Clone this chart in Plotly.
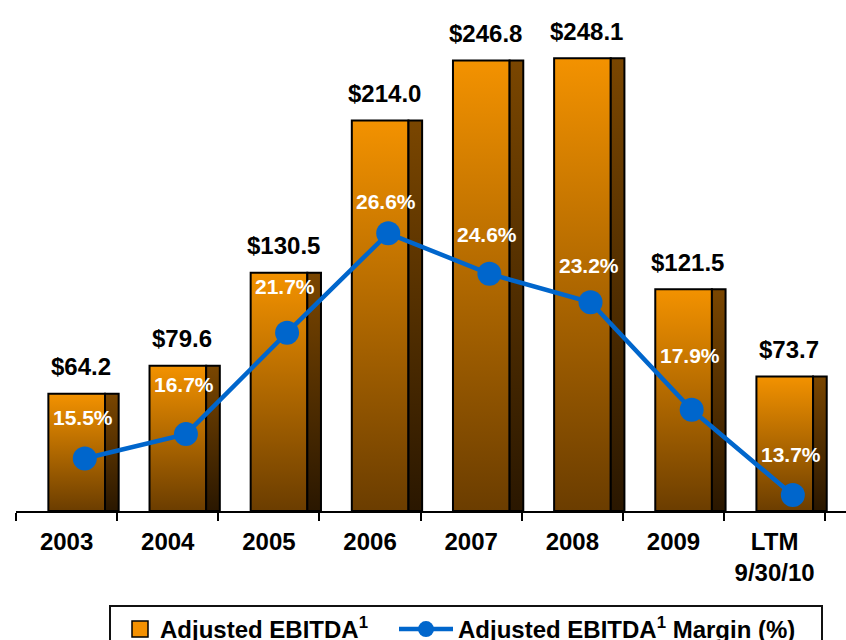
import plotly.graph_objects as go

# ---------------- data ----------------
categories = ["2003", "2004", "2005", "2006", "2007", "2008", "2009", "LTM<br>9/30/10"]
ebitda = [64.2, 79.6, 130.5, 214.0, 246.8, 248.1, 121.5, 73.7]
margin_pct = [15.5, 16.7, 21.7, 26.6, 24.6, 23.2, 17.9, 13.7]
bar_labels = [f"${v:.1f}" for v in ebitda]
margin_labels = [f"{v:.1f}%" for v in margin_pct]

# ---------------- style / layout constants ----------------
W, H = 846, 640
ML, MR, MT, MB = 16, 0, 0, 129
FONT = "Liberation Sans, Arial, sans-serif"
CAT_PX = 101.15                       # pixel width of one category
FRONT = (-0.18, 0.38)                 # front face of 3D bar (category units)
SIDE = (0.38, 0.515)                  # side face of 3D bar
MARK_X = 0.18                         # line marker offset
VALUE_X = 0.14                        # value label offset
FRONT_COLORS = ("#6b3d00", "#f39200")
SIDE_COLORS = ("#2a1700", "#7a4600")
BLUE = "#0066cc"
label_dy = [41, 50, 46, 32, 39, 37, 54, 40]   # pixel lift of % labels

fig = go.Figure()

for i, v in enumerate(ebitda):
    for (x0, x1), (cb, ct) in ((FRONT, FRONT_COLORS), (SIDE, SIDE_COLORS)):
        fig.add_trace(go.Scatter(
            x=[i + x0, i + x1, i + x1, i + x0, i + x0],
            y=[0, 0, v, v, 0],
            mode="lines", fill="toself",
            fillgradient=dict(type="vertical", colorscale=[[0, cb], [1, ct]]),
            line=dict(color="black", width=2),
            hoverinfo="skip", showlegend=False,
        ))

# legend entry for the bars
fig.add_trace(go.Scatter(
    x=[None], y=[None], mode="markers",
    marker=dict(symbol="square", size=18, color="#f59100",
                line=dict(color="black", width=1.5)),
    name="Adjusted EBITDA<sup>1</sup>", legend="legend",
))

# margin line
fig.add_trace(go.Scatter(
    x=[i + MARK_X for i in range(len(margin_pct))], y=margin_pct,
    yaxis="y2", mode="lines+markers",
    line=dict(color=BLUE, width=4.5),
    marker=dict(size=24, color=BLUE),
    name="Adjusted EBITDA<sup>1</sup> Margin (%)", legend="legend2",
    hoverinfo="skip",
))

ann = []
for i, (v, t) in enumerate(zip(ebitda, bar_labels)):
    ann.append(dict(x=i + VALUE_X, y=v, xref="x", yref="y", text=t,
                    showarrow=False, yshift=27, yanchor="middle",
                    font=dict(family=FONT, size=24, color="black", weight="bold")))
for i, (v, t) in enumerate(zip(margin_pct, margin_labels)):
    ann.append(dict(x=i + MARK_X, y=v, xref="x", yref="y2", text=t,
                    showarrow=False, yshift=label_dy[i], xshift=-2, yanchor="middle",
                    font=dict(family=FONT, size=21, color="white", weight="bold")))

plot_w = W - ML - MR
plot_h = H - MT - MB
def px_x(px):
    return (px - ML) / plot_w
def px_y(py):
    return (H - MB - py) / plot_h

shapes = [dict(type="rect", xref="paper", yref="paper",
               x0=px_x(110), x1=px_x(822), y0=px_y(606), y1=px_y(660),
               line=dict(color="#111", width=2), fillcolor="rgba(0,0,0,0)")]

legend_font = dict(family=FONT, size=24, color="black", weight="bold")

fig.update_layout(
    width=W, height=H,
    margin=dict(l=ML, r=MR, t=MT, b=MB, pad=0),
    paper_bgcolor="white", plot_bgcolor="white",
    showlegend=True,
    xaxis=dict(
        range=[-0.5, -0.5 + plot_w / CAT_PX],
        tickmode="array", tickvals=list(range(len(categories))), ticktext=categories,
        ticks="", showline=True, linecolor="black", linewidth=2,
        showgrid=False, zeroline=False, ticklabelstandoff=8,
        tickfont=dict(family=FONT, size=24, color="black", weight="bold"),
        minor=dict(tickmode="array", tickvals=[k - 0.5 for k in range(len(categories) + 1)],
                   ticks="outside", ticklen=8, tickwidth=2, tickcolor="black", showgrid=False),
        fixedrange=True,
    ),
    yaxis=dict(range=[0, plot_h / 1.825], visible=False, fixedrange=True),
    yaxis2=dict(range=[12.91, 38.10], overlaying="y", visible=False, fixedrange=True),
    legend=dict(xref="container", yref="container", x=120 / W, y=1 - 607 / H,
                xanchor="left", yanchor="top", orientation="h",
                bgcolor="rgba(0,0,0,0)", borderwidth=0, font=legend_font),
    legend2=dict(xref="container", yref="container", x=394 / W, y=1 - 607 / H,
                 xanchor="left", yanchor="top", orientation="h", itemwidth=54,
                 bgcolor="rgba(0,0,0,0)", borderwidth=0, font=legend_font),
    annotations=ann,
    shapes=shapes,
)

fig.write_html("out.html", config={"displayModeBar": False, "staticPlot": True},
               post_script="document.body.style.margin='0';")
